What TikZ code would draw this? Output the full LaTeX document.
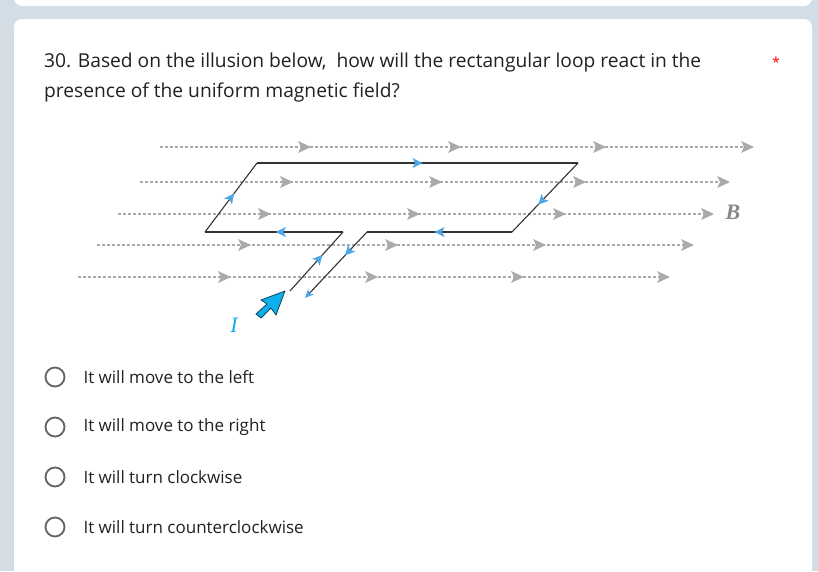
\documentclass[tikz,border=0pt]{standalone}
\usepackage{fontspec}
\setmainfont{Open Sans}
\newfontfamily\serifit{Liberation Serif}
\usetikzlibrary{arrows.meta,decorations.markings}
\definecolor{bgc}{HTML}{D3DDE6}
\definecolor{fieldc}{HTML}{AAAAAA}
\definecolor{curc}{HTML}{4DA6E8}
\definecolor{bigc}{HTML}{10AEEA}
\definecolor{txt}{HTML}{202124}
\definecolor{radio}{HTML}{5F6368}
\begin{document}
\begin{tikzpicture}[x=1pt,y=-1pt,
  field/.style={fieldc,densely dashed,line width=1.1pt},
  fhead/.style={fill=fieldc,draw=none},
  wire/.style={line width=1.1pt,black!80},
  cur/.style={postaction={decorate},decoration={markings,mark=at position #1 with {\fill[curc] (5,0) -- (-5,-5) -- (-2.5,0) -- (-5,5) -- cycle;}}},
  opt/.style={anchor=west,font=\fontsize{17}{19}\selectfont,text=txt},
  rad/.style={draw=radio,line width=1.8pt,circle,minimum size=19pt,inner sep=0pt}]
\useasboundingbox (0,0) rectangle (818,571);
\fill[bgc] (0,0) rectangle (818,571);
\fill[white,rounded corners=8pt] (14,-20) rectangle (812,6);
\fill[white,rounded corners=8pt] (14,19) rectangle (812,590);
\node[anchor=north west,font=\fontsize{19.2}{30}\selectfont,text=txt,align=left,inner sep=0pt] (q) at (44,53) {30. Based on the illusion below,\ \ how will the rectangular loop react in the\\presence of the uniform magnetic field?};
\node[text=red,font=\fontsize{14}{14}\selectfont] (ast) at (776,62) {*};
% field lines
\foreach \y/\xa/\xb/\a/\b/\c in {147/160/748/305/455/600, 182/140/724/287/436/580, 214/118/708/265/414/560, 245/97/688/245/392/540, 277/78/664/225/372/518}{
  \draw[field] (\xa,\y) -- (\xb,\y);
  \foreach \p in {\a,\b,\c,\xb}{
    \fill[fhead] (\p+6,\y) -- (\p-7,\y-6) -- (\p-4,\y) -- (\p-7,\y+6) -- cycle;}
}
% loop
\coordinate (l1) at (343,232);
\coordinate (bl) at (205,232);
\coordinate (tl) at (257,163);
\coordinate (tr) at (578,163);
\coordinate (br) at (512,232);
\coordinate (r1) at (367,232);
\coordinate (le) at (290,291);
\coordinate (re) at (305,298);
\draw[wire,cur=0.55] (le) -- (l1);
\draw[wire,cur=0.45] (l1) -- (bl);
\draw[wire,cur=0.5] (bl) -- (tl);
\draw[wire,cur=0.5] (tl) -- (tr);
\draw[wire,cur=0.55] (tr) -- (br);
\draw[wire,cur=0.5] (br) -- (r1);
\draw[wire,cur=0.3,-{Stealth[curc,length=9pt,width=8pt]}] (r1) -- (re);
% big arrow
\draw[draw=black!60!bigc,fill=bigc,line width=0.8pt,line join=round]
  (261,318) -- (271,308) -- (276,315) -- (285,291) -- (261,300) -- (267,304) -- (256,314) -- cycle;
\node[text=bigc,font=\serifit\itshape\fontsize{22}{22}\selectfont] (I) at (234,325) {I};
\node[text=fieldc!80!black,font=\serifit\itshape\bfseries\fontsize{22}{22}\selectfont] (B) at (733,212) {B};
% options
\foreach \yy/\t [count=\i] in {377/It will move to the left, 427/It will move to the right, 477/It will turn clockwise, 527/It will turn counterclockwise}{
  \node[rad] (r\i) at (55,\yy) {};
  \node[opt] (o\i) at (80,\yy) {\t};
}
\end{tikzpicture}
\end{document}
